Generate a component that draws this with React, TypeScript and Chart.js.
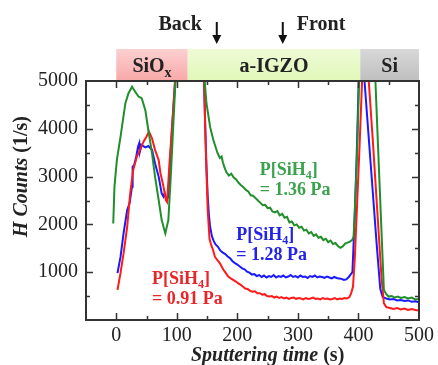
import React, { useEffect, useRef } from "react";
import { Chart, registerables } from "chart.js";

Chart.register(...registerables);

const SERIF = '"Liberation Serif", "Times New Roman", Times, serif';

// ---------- axes ----------
const xMin = -50;
const xMax = 500;
const yMin = 0;
const yMax = 5000;
const xTickLabels = [0, 100, 200, 300, 400, 500];
const yTickLabels = [1000, 2000, 3000, 4000, 5000];
const xTickMarks = [0, 50, 100, 150, 200, 250, 300, 350, 400, 450];
const yTickMarks = [500, 1000, 1500, 2000, 2500, 3000, 3500, 4000, 4500];

// ---------- layers (top band) ----------
const layerStart = [0, 118, 403];
const layerEnd = [118, 403, 500];
const layerLabel = ["SiO", "a-IGZO", "Si"];
const layerSub = ["x", "", ""];

// ---------- markers ----------
const markerTimes = [166, 275];
const markerLabels = ["Back", "Front"];

// ---------- series ----------
const seriesPressure = ["0.91", "1.28", "1.36"];

const redTime = [
  2, 7, 12, 18, 23, 28, 34, 39, 45, 50, 54, 59, 64, 70, 73, 78, 82, 84, 88, 93, 97,
  121, 145, 148, 151, 154, 157, 160, 163, 167, 171, 177, 181, 185, 189, 193, 197, 201,
  205, 209, 213, 217, 221, 225, 229, 233, 237, 241, 245, 249, 253, 257, 261, 265, 269,
  273, 277, 281, 285, 289, 293, 297, 301, 305, 309, 313, 317, 321, 325, 329, 333, 337,
  341, 345, 349, 353, 357, 361, 365, 369, 373, 377, 381, 385, 388, 391, 394, 398, 402,
  406, 410, 417, 424, 431, 438, 442, 446, 452, 458, 464, 470, 476, 482, 488, 494, 500,
];
const redCounts = [
  630, 980, 1390, 1950, 2650, 3140, 3420, 3560, 3730, 3840, 3940, 3800, 3560, 3350, 3070, 2790, 2510, 2470, 3300, 4200, 5000,
  11000, 5000, 3500, 2300, 1700, 1560, 1460, 1320, 1250, 1190, 1050, 980, 910, 870, 840, 810, 770,
  740, 700, 660, 650, 610, 590, 600, 560, 560, 530, 540, 500, 490, 500, 470, 490, 460,
  480, 450, 470, 440, 460, 470, 440, 460, 450, 430, 460, 440, 450, 470, 440, 450, 430,
  460, 440, 450, 430, 440, 460, 430, 450, 440, 460, 450, 480, 560, 700, 1300, 2500, 3700,
  5000, 6300, 5000, 3700, 2300, 900, 350, 270, 250, 230, 250, 220, 240, 210, 230, 210, 200,
];

const blueTime = [
  2, 7, 12, 18, 22, 26, 27, 29.5, 33, 36, 38, 39, 42, 48, 53, 59, 64, 70, 75, 78, 80,
  83, 86, 89, 93, 97, 121, 145, 147, 149, 151, 153, 155, 158, 161, 164, 168, 172, 176,
  180, 184, 188, 192, 196, 200, 204, 208, 212, 216, 220, 224, 228, 232, 236, 240, 244,
  248, 252, 256, 260, 264, 268, 272, 276, 280, 284, 288, 292, 296, 300, 304, 308, 312,
  316, 320, 324, 328, 332, 336, 340, 344, 348, 352, 356, 360, 364, 368, 372, 376, 380,
  384, 387, 390, 394, 397, 400, 403, 410, 420, 430, 436, 440, 446, 452, 458, 464, 470,
  476, 482, 488, 494, 500,
];
const blueCounts = [
  980, 1320, 1810, 2300, 2440, 2790, 3210, 3240, 3420, 3630, 3700, 3520, 3660, 3610, 3640, 3560, 3280, 3000, 2650, 2580, 2650,
  2510, 2580, 3350, 4180, 4950, 11000, 5000, 4000, 3200, 2600, 2200, 1950, 1750, 1650, 1580, 1530, 1450, 1410,
  1380, 1330, 1290, 1230, 1190, 1160, 1120, 1080, 1060, 1010, 990, 950, 960, 920, 940, 900, 930,
  890, 920, 900, 940, 890, 920, 900, 930, 890, 910, 940, 900, 920, 890, 930, 900, 910,
  880, 920, 900, 930, 890, 910, 900, 880, 910, 890, 870, 900, 880, 870, 860, 840, 850,
  900, 950, 1000, 2200, 3400, 4800, 6200, 5000, 3300, 1600, 650, 480, 450, 430, 440, 410, 420,
  400, 410, 380, 390, 370,
];

const greenTime = [
  -5, -3, 1, 7, 15, 20, 26, 31, 37, 42, 48, 53, 59, 64, 70, 75, 81, 86, 90, 94, 97.6,
  122, 146, 149, 155, 160, 163, 167, 171, 174, 176, 179, 182, 186, 190, 194, 198, 202,
  206, 210, 214, 218, 222, 226, 230, 234, 238, 242, 246, 250, 254, 258, 262, 266, 270,
  274, 278, 282, 286, 290, 294, 298, 302, 306, 310, 314, 318, 322, 326, 330, 334, 338,
  342, 346, 350, 354, 358, 362, 366, 370, 374, 378, 382, 386, 390, 392, 395, 398, 401,
  414, 428, 435, 442, 446, 450, 455, 460, 465, 470, 476, 482, 488, 494, 500,
];
const greenCounts = [
  2020, 2790, 3350, 3830, 4530, 4740, 4880, 4780, 4670, 4640, 4390, 3970, 3490, 3000, 2510, 2090, 1810, 2090, 3000, 4040, 4950,
  11000, 5000, 4530, 4040, 3780, 3660, 3500, 3390, 3420, 3300, 3180, 3090, 3020, 3060, 2980, 2940, 2870,
  2820, 2780, 2720, 2690, 2610, 2600, 2550, 2500, 2450, 2400, 2410, 2340, 2350, 2270, 2250, 2280, 2190,
  2220, 2140, 2160, 2040, 2060, 1980, 2000, 1930, 1950, 1870, 1890, 1810, 1840, 1760, 1790, 1720, 1740,
  1670, 1700, 1630, 1660, 1590, 1610, 1550, 1510, 1540, 1600, 1620, 1640, 1680, 1750, 2600, 3600, 5000,
  9300, 5000, 2800, 630, 540, 490, 500, 470, 490, 460, 480, 450, 470, 430, 440,
];

// ---------- styles ----------
const lineColors = ["#ff1a1a", "#1a1aff", "#1f8f2a"];
const textColors = ["#e8262a", "#2222e8", "#3aa24c"];
// label anchors (data coordinates: left edge, baseline of first line)
const labelAnchorX = [59, 198, 237];
const labelAnchorY = [753, 1674, 3033];
const bandTopColors = ["#fcd0d0", "#eefbd6", "#d8d8d8"];
const bandBottomColors = ["#f8a8a8", "#e0f8b8", "#bfbfbf"];

function pts(t: number[], c: number[]) {
  return t.map((v, i) => ({ x: v, y: c[i] }));
}

type Part = { text: string; font: string; dy?: number };

function drawParts(ctx: CanvasRenderingContext2D, parts: Part[], x: number, y: number, align: "left" | "center") {
  let total = 0;
  for (const p of parts) {
    ctx.font = p.font;
    total += ctx.measureText(p.text).width;
  }
  let cx = align === "center" ? x - total / 2 : x;
  ctx.textAlign = "left";
  ctx.textBaseline = "alphabetic";
  for (const p of parts) {
    ctx.font = p.font;
    ctx.fillText(p.text, cx, y + (p.dy || 0));
    cx += ctx.measureText(p.text).width;
  }
}

const decorPlugin = {
  id: "decor",
  beforeDraw(chart: any) {
    const ctx = chart.ctx as CanvasRenderingContext2D;
    ctx.save();
    ctx.fillStyle = "#ffffff";
    ctx.fillRect(0, 0, chart.width, chart.height);
    ctx.restore();
  },
  afterDraw(chart: any) {
    const ctx = chart.ctx as CanvasRenderingContext2D;
    const a = chart.chartArea;
    const xs = chart.scales.x;
    const ys = chart.scales.y;
    ctx.save();

    // top band
    const bandTop = a.top - 32;
    for (let i = 0; i < layerStart.length; i++) {
      const x0 = xs.getPixelForValue(layerStart[i]);
      const x1 = xs.getPixelForValue(layerEnd[i]);
      const g = ctx.createLinearGradient(0, bandTop, 0, a.top);
      g.addColorStop(0, bandTopColors[i]);
      g.addColorStop(1, bandBottomColors[i]);
      ctx.fillStyle = g;
      ctx.fillRect(x0, bandTop, x1 - x0, a.top - bandTop);
      ctx.fillStyle = "#222";
      const parts: Part[] = [{ text: layerLabel[i], font: `bold 20px ${SERIF}` }];
      if (layerSub[i]) parts.push({ text: layerSub[i], font: `bold 14px ${SERIF}`, dy: 5 });
      drawParts(ctx, parts, (x0 + x1) / 2, a.top - 9, "center");
    }

    // markers
    for (let i = 0; i < markerTimes.length; i++) {
      const mx = xs.getPixelForValue(markerTimes[i]);
      ctx.strokeStyle = "#111";
      ctx.fillStyle = "#111";
      ctx.lineWidth = 2;
      ctx.beginPath();
      ctx.moveTo(mx, 22);
      ctx.lineTo(mx, 37);
      ctx.stroke();
      ctx.beginPath();
      ctx.moveTo(mx - 4.5, 35);
      ctx.lineTo(mx + 4.5, 35);
      ctx.lineTo(mx, 44);
      ctx.closePath();
      ctx.fill();
      ctx.fillStyle = "#222";
      ctx.font = `bold 20px ${SERIF}`;
      ctx.textBaseline = "alphabetic";
      if (i === 0) {
        ctx.textAlign = "right";
        ctx.fillText(markerLabels[i], mx - 15, 30);
      } else {
        ctx.textAlign = "left";
        ctx.fillText(markerLabels[i], mx + 14, 30);
      }
    }

    // frame
    ctx.strokeStyle = "#333";
    ctx.lineWidth = 2;
    ctx.strokeRect(a.left, a.top, a.right - a.left, a.bottom - a.top);

    // ticks
    ctx.lineWidth = 1.5;
    ctx.beginPath();
    for (const v of xTickMarks) {
      const px = Math.round(xs.getPixelForValue(v)) + 0.5;
      const len = v % 100 === 0 ? 7 : 4;
      ctx.moveTo(px, a.bottom);
      ctx.lineTo(px, a.bottom - len);
      ctx.moveTo(px, a.top);
      ctx.lineTo(px, a.top + len);
    }
    for (const v of yTickMarks) {
      const py = Math.round(ys.getPixelForValue(v)) + 0.5;
      const len = v % 1000 === 0 ? 7 : 4;
      ctx.moveTo(a.left, py);
      ctx.lineTo(a.left + len, py);
      ctx.moveTo(a.right, py);
      ctx.lineTo(a.right - len, py);
    }
    ctx.stroke();

    // series labels
    for (let i = 0; i < seriesPressure.length; i++) {
      const lx = xs.getPixelForValue(labelAnchorX[i]);
      const ly = ys.getPixelForValue(labelAnchorY[i]);
      ctx.fillStyle = textColors[i];
      drawParts(
        ctx,
        [
          { text: "P[SiH", font: `bold 18px ${SERIF}` },
          { text: "4", font: `bold 12px ${SERIF}`, dy: 4 },
          { text: "]", font: `bold 18px ${SERIF}` },
        ],
        lx,
        ly,
        "left"
      );
      drawParts(ctx, [{ text: `= ${seriesPressure[i]} Pa`, font: `bold 18px ${SERIF}` }], lx, ly + 20, "left");
    }

    // axis titles
    ctx.fillStyle = "#222";
    drawParts(
      ctx,
      [
        { text: "Sputtering time", font: `italic bold 20px ${SERIF}` },
        { text: " (s)", font: `bold 20px ${SERIF}` },
      ],
      (xs.getPixelForValue(0) + xs.getPixelForValue(500)) / 2,
      361,
      "center"
    );
    ctx.save();
    ctx.translate(27, ys.getPixelForValue(3000));
    ctx.rotate(-Math.PI / 2);
    drawParts(
      ctx,
      [
        { text: "H Counts", font: `italic bold 20px ${SERIF}` },
        { text: " (1/s)", font: `bold 20px ${SERIF}` },
      ],
      0,
      0,
      "center"
    );
    ctx.restore();

    ctx.restore();
  },
};

export default function App() {
  const ref = useRef<HTMLCanvasElement | null>(null);

  useEffect(() => {
    const canvas = ref.current;
    if (!canvas) return;
    const mk = (t: number[], c: number[], i: number) => ({
      label: seriesPressure[i],
      data: pts(t, c),
      borderColor: lineColors[i],
      backgroundColor: lineColors[i],
      showLine: true,
      pointRadius: 0,
      borderWidth: 2,
      tension: 0,
      fill: false,
    });
    const chart = new Chart(canvas, {
      type: "scatter",
      data: {
        datasets: [
          mk(greenTime, greenCounts, 2),
          mk(redTime, redCounts, 0),
          mk(blueTime, blueCounts, 1),
        ],
      },
      options: {
        animation: false,
        responsive: false,
        maintainAspectRatio: false,
        layout: { padding: { top: 81, right: 18, left: 0, bottom: 0 } },
        plugins: { legend: { display: false }, tooltip: { enabled: false } },
        scales: {
          x: {
            type: "linear",
            min: xMin,
            max: xMax,
            grid: { display: false, drawTicks: false },
            border: { display: false },
            ticks: {
              font: { family: SERIF, size: 20 },
              color: "#222",
              padding: 4,
              maxRotation: 0,
              autoSkip: false,
              callback: (v: any) => String(v),
            },
            afterBuildTicks: (s: any) => {
              s.ticks = xTickLabels.map((v) => ({ value: v }));
            },
            afterFit: (s: any) => {
              s.height = 45;
            },
          },
          y: {
            type: "linear",
            min: yMin,
            max: yMax,
            grid: { display: false, drawTicks: false },
            border: { display: false },
            ticks: {
              font: { family: SERIF, size: 20 },
              color: "#222",
              padding: 8,
              autoSkip: false,
              callback: (v: any) => String(v),
            },
            afterBuildTicks: (s: any) => {
              s.ticks = yTickLabels.map((v) => ({ value: v }));
            },
            afterFit: (s: any) => {
              s.width = 86;
            },
          },
        },
      } as any,
      plugins: [decorPlugin],
    });
    return () => chart.destroy();
  }, []);

  return (
    <div style={{ position: "absolute", left: 0, top: 0, width: 438, height: 365 }}>
      <canvas ref={ref} width={438} height={365} style={{ display: "block" }} />
    </div>
  );
}
